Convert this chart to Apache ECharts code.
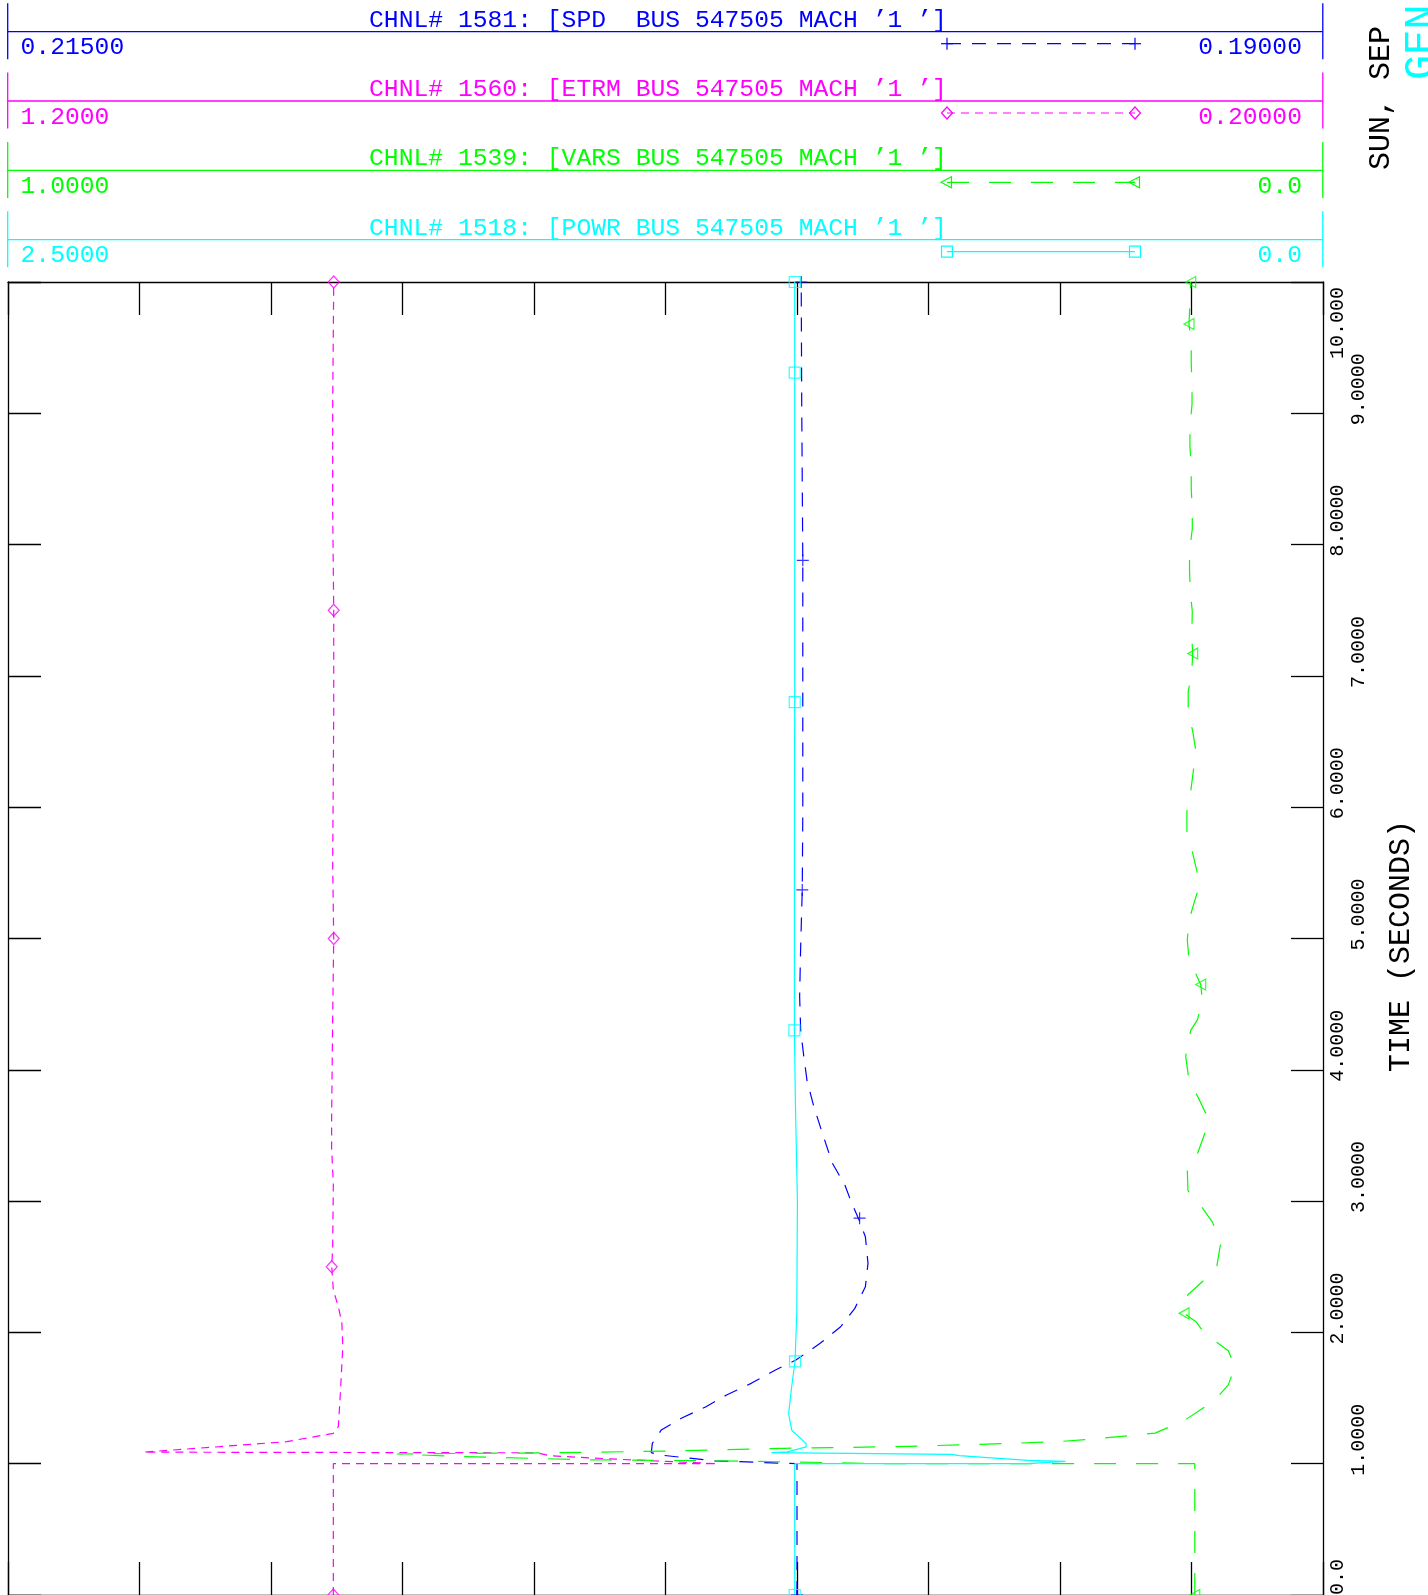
<!DOCTYPE html>
<html>
<head>
<meta charset="utf-8">
<script src="https://cdn.jsdelivr.net/npm/echarts@6/dist/echarts.min.js"></script>
<style>
html,body{margin:0;padding:0;background:#ffffff;overflow:hidden;}
#chart{width:1428px;height:1595px;}
</style>
</head>
<body>
<div id="chart"></div>
<script>
// ---------------- DATA ----------------
const channelTitles = [
  "CHNL# 1581: [SPD  BUS 547505 MACH \u20191 \u2019]",
  "CHNL# 1560: [ETRM BUS 547505 MACH \u20191 \u2019]",
  "CHNL# 1539: [VARS BUS 547505 MACH \u20191 \u2019]",
  "CHNL# 1518: [POWR BUS 547505 MACH \u20191 \u2019]"
];
const channelLeftValues  = [0.215, 1.2, 1.0, 2.5];
const channelRightValues = [0.19, 0.2, 0.0, 0.0];
const channelLeftLabels  = ["0.21500", "1.2000", "1.0000", "2.5000"];
const channelRightLabels = ["0.19000", "0.20000", "0.0", "0.0"];
const channelColors = ["#0000ff", "#ff00ff", "#00ff00", "#00ffff"];

const timeMin = 0, timeMax = 10, timeStep = 1;
const timeAxisTitle = "TIME (SECONDS)";
const dateText = "SUN, SEP";
const cornerText = "GEN";

// SPD (speed) channel
const spdTime  = [0, 1.0, 1.022, 1.066, 1.084, 1.155, 1.257, 1.346, 1.434, 1.523, 1.612, 1.714, 1.79, 1.917, 2.043, 2.183, 2.348, 2.526, 2.729, 2.856, 2.995, 3.123, 3.29, 3.52, 3.72, 3.92, 4.10, 4.30, 4.56, 4.94, 5.37, 5.95, 6.72, 7.88, 9.05, 10];
const spdValue = [0.20000, 0.20000, 0.20157, 0.20260, 0.20277, 0.20275, 0.20258, 0.20220, 0.20173, 0.20134, 0.20087, 0.20041, 0.20002, 0.19956, 0.19917, 0.19890, 0.19870, 0.19865, 0.19870, 0.19882, 0.19897, 0.19909, 0.19933, 0.19952, 0.19968, 0.19981, 0.19987, 0.19993, 0.19995, 0.19993, 0.19990, 0.19989, 0.19989, 0.19989, 0.19991, 0.19992];
const spdMarkTime  = [0, 2.87, 5.37, 7.88, 10];
const spdMarkValue = [0.20000, 0.19881, 0.19990, 0.19989, 0.19992];

// ETRM (terminal voltage) channel
const etrmTime  = [0, 1.0, 1.0, 1.033, 1.06, 1.083, 1.088, 1.13, 1.168, 1.231, 1.282, 1.51, 1.89, 2.07, 2.197, 2.32, 2.5, 2.65, 3.13, 3.4, 3.63, 4.4, 5.0, 5.56, 6.72, 7.5, 8.27, 9.05, 10];
const etrmValue = [0.9526, 0.9526, 0.6605, 0.7344, 0.7875, 0.7978, 1.0971, 1.0388, 0.9880, 0.9526, 0.9488, 0.9474, 0.9454, 0.9461, 0.9488, 0.9526, 0.9538, 0.9531, 0.9526, 0.9539, 0.9539, 0.9531, 0.9523, 0.9531, 0.9523, 0.9523, 0.9531, 0.9531, 0.9523];
const etrmMarkTime  = [0, 2.5, 5.0, 7.5, 10];
const etrmMarkValue = [0.9526, 0.9538, 0.9523, 0.9523, 0.9523];

// VARS (reactive power) channel
const varsTime  = [0, 1.0, 1.0, 1.015, 1.023, 1.03, 1.056, 1.074, 1.084, 1.097, 1.117, 1.13, 1.155, 1.168, 1.193, 1.233, 1.33, 1.483, 1.6, 1.739, 1.86, 1.993, 2.08, 2.145, 2.285, 2.4, 2.5, 2.68, 2.84, 2.97, 3.08, 3.24, 3.36, 3.57, 3.67, 3.80, 3.92, 4.10, 4.30, 4.38, 4.53, 4.65, 4.76, 4.84, 4.99, 5.14, 5.27, 5.35, 5.5, 5.65, 5.82, 5.97, 6.12, 6.30, 6.43, 6.58, 6.73, 6.88, 7.02, 7.17, 7.3, 7.49, 7.64, 7.80, 7.95, 8.12, 8.27, 8.43, 8.59, 8.75, 8.90, 9.07, 9.22, 9.38, 9.53, 9.68, 10];
const varsValue = [0.0975, 0.0975, 0.3328, 0.4133, 0.4760, 0.5596, 0.6594, 0.7043, 0.5782, 0.4930, 0.4102, 0.3235, 0.2361, 0.2012, 0.1687, 0.1277, 0.1053, 0.0824, 0.0720, 0.0670, 0.0720, 0.0902, 0.0964, 0.1057, 0.1029, 0.0902, 0.0808, 0.0778, 0.0841, 0.0933, 0.1027, 0.1032, 0.0955, 0.0879, 0.0892, 0.0955, 0.1019, 0.1044, 0.1006, 0.0955, 0.0917, 0.0930, 0.0981, 0.1019, 0.1032, 0.1019, 0.0981, 0.0956, 0.0956, 0.0991, 0.1035, 0.1035, 0.1006, 0.0983, 0.0967, 0.0991, 0.1025, 0.1025, 0.0998, 0.0991, 0.0998, 0.0994, 0.1009, 0.1015, 0.1015, 0.0994, 0.0994, 0.1002, 0.1002, 0.1012, 0.1012, 0.0996, 0.0996, 0.1002, 0.1002, 0.1019, 0.1006];
const varsMarkTime  = [0, 2.145, 4.65, 7.17, 9.68, 10];
const varsMarkValue = [0.0975, 0.1057, 0.0930, 0.0991, 0.1019, 0.1006];

// POWR (active power) channel
const powrTime  = [0, 1.0, 1.0, 1.017, 1.025, 1.046, 1.061, 1.071, 1.083, 1.084, 1.09, 1.128, 1.153, 1.255, 1.38, 1.59, 1.78, 2.15, 3.0, 3.72, 4.30, 5.44, 7.0, 10];
const powrValue = [1.0043, 1.0043, 0.5610, 0.4896, 0.5600, 0.6372, 0.6914, 0.7071, 0.7071, 1.0488, 1.0178, 0.9826, 0.9826, 1.0100, 1.0159, 1.0100, 1.0037, 1.0004, 0.9992, 1.0029, 1.0050, 1.0050, 1.0043, 1.0043];
const powrMarkTime  = [0, 1.78, 4.30, 6.8, 9.31, 10];
const powrMarkValue = [1.0043, 1.0037, 1.0050, 1.0043, 1.0043, 1.0043];

// ---------------- STYLE ----------------
const MONO = "'Liberation Mono', 'Courier New', monospace";
const PLUS = 'path://M0,5L10,5M5,0L5,10';
const dashes = [[14, 11], [8, 6], [22, 20], 'solid'];
const markerSymbols = [PLUS, 'diamond', 'triangle', 'rect'];
const markerSizes = [[12, 12], [11, 12], [11, 10], [11, 11]];
const markerRotate = [0, 0, 90, 0];

function pairs(ts, vs) { return ts.map(function (t, i) { return [vs[i], t]; }); }

const lineData = [
  pairs(spdTime, spdValue), pairs(etrmTime, etrmValue),
  pairs(varsTime, varsValue), pairs(powrTime, powrValue)
];
const markData = [
  pairs(spdMarkTime, spdMarkValue), pairs(etrmMarkTime, etrmMarkValue),
  pairs(varsMarkTime, varsMarkValue), pairs(powrMarkTime, powrMarkValue)
];

// ---------------- HEADER GRAPHICS ----------------
const GL = 7.7, GR = 1322.8;
const graphics = [];
function legendMarker(kind, cx, cy, c) {
  const st = { fill: 'none', stroke: c, lineWidth: 1.2 };
  if (kind === 0) {
    graphics.push({ type: 'line', shape: { x1: cx - 6, y1: cy, x2: cx + 6, y2: cy }, style: st });
    graphics.push({ type: 'line', shape: { x1: cx, y1: cy - 6, x2: cx, y2: cy + 6 }, style: st });
  } else if (kind === 1) {
    graphics.push({ type: 'polygon', shape: { points: [[cx, cy - 6], [cx + 5.5, cy], [cx, cy + 6], [cx - 5.5, cy]] }, style: st });
  } else if (kind === 2) {
    graphics.push({ type: 'polygon', shape: { points: [[cx - 6, cy], [cx + 4.5, cy - 5.5], [cx + 4.5, cy + 5.5]] }, style: st });
  } else {
    graphics.push({ type: 'rect', shape: { x: cx - 5.5, y: cy - 5.5, width: 11, height: 11 }, style: st });
  }
}
for (let i = 0; i < 4; i++) {
  const base = 31.7 + 69.3 * i;
  const c = channelColors[i];
  const ls = { stroke: c, lineWidth: 1.3 };
  graphics.push({ type: 'line', shape: { x1: GL, y1: base - 28.4, x2: GL, y2: base + 27.6 }, style: ls });
  graphics.push({ type: 'line', shape: { x1: GR, y1: base - 28.4, x2: GR, y2: base + 27.6 }, style: ls });
  graphics.push({ type: 'line', shape: { x1: GL, y1: base, x2: GR, y2: base }, style: ls });
  graphics.push({ type: 'text', x: 369, y: base - 11.5, style: { text: channelTitles[i], fill: c, font: '24.7px ' + MONO, align: 'left', verticalAlign: 'middle' } });
  graphics.push({ type: 'text', x: 20.5, y: base + 16.2, style: { text: channelLeftLabels[i], fill: c, font: '24.7px ' + MONO, align: 'left', verticalAlign: 'middle' } });
  graphics.push({ type: 'text', x: 1302, y: base + 16.2, style: { text: channelRightLabels[i], fill: c, font: '24.7px ' + MONO, align: 'right', verticalAlign: 'middle' } });
  const ly = base + 12;
  const d = dashes[i];
  graphics.push({ type: 'line', shape: { x1: 947, y1: ly, x2: 1135, y2: ly }, style: { stroke: c, lineWidth: 1.2, lineDash: (d === 'solid' ? null : d) } });
  legendMarker(i, 947, ly, c);
  legendMarker(i, 1135, ly, c);
}
graphics.push({ type: 'text', x: 1366, y: 170, rotation: Math.PI / 2, style: { text: dateText, fill: '#000000', font: '30px ' + MONO, align: 'left', verticalAlign: 'top' } });
graphics.push({ type: 'text', x: 1401, y: 80, rotation: Math.PI / 2, style: { text: cornerText, fill: '#00ffff', font: '42px ' + MONO, align: 'left', verticalAlign: 'top' } });

// ---------------- AXES ----------------
const axisLineStyle = { color: '#000000', width: 1.3 };
function fmtTime(v) {
  if (v === 0) return '0.0';
  if (v === 10) return '10.000';
  return v.toFixed(4);
}
const richStyle = { fontSize: 20, fontFamily: MONO, color: '#000000' };
const timeRich = {
  e: Object.assign({ padding: [0, 0, 0, 48] }, richStyle),
  o: Object.assign({ padding: [21, 0, 0, 48] }, richStyle),
  t: Object.assign({ padding: [0, 82, 0, 0] }, richStyle),
  z: Object.assign({ padding: [0, 0, 0, 36] }, richStyle)
};

const xAxes = [
  { type: 'value', position: 'top', min: 0, max: 10, interval: 1,
    axisLine: { show: true, onZero: false, lineStyle: axisLineStyle },
    axisTick: { show: true, inside: true, length: 33, lineStyle: axisLineStyle },
    axisLabel: { show: false }, splitLine: { show: false } },
  { type: 'value', position: 'bottom', min: 0, max: 10, interval: 1,
    axisLine: { show: true, onZero: false, lineStyle: axisLineStyle },
    axisTick: { show: true, inside: true, length: 33, lineStyle: axisLineStyle },
    axisLabel: { show: false }, splitLine: { show: false } }
];
for (let i = 0; i < 4; i++) {
  xAxes.push({ type: 'value', show: false, inverse: true, position: 'bottom',
    min: Math.min(channelLeftValues[i], channelRightValues[i]),
    max: Math.max(channelLeftValues[i], channelRightValues[i]),
    axisLine: { onZero: false }, splitLine: { show: false } });
}

const yAxes = [
  { type: 'value', position: 'left', min: timeMin, max: timeMax, interval: timeStep,
    axisLine: { show: true, onZero: false, lineStyle: axisLineStyle },
    axisTick: { show: true, inside: true, length: 33, lineStyle: axisLineStyle },
    axisLabel: { show: false }, splitLine: { show: false } },
  { type: 'value', position: 'right', min: timeMin, max: timeMax, interval: timeStep,
    axisLine: { show: true, onZero: false, lineStyle: axisLineStyle },
    axisTick: { show: true, inside: true, length: 32, lineStyle: axisLineStyle },
    splitLine: { show: false },
    axisLabel: {
      show: true, rotate: 90, margin: 5, align: 'center', verticalAlign: 'top',
      fontSize: 20, fontFamily: MONO, color: '#000000', hideOverlap: false,
      formatter: function (v) {
        const s = fmtTime(v);
        if (v === 10) return '{t|' + s + '}';
        if (v === 0) return '{z|' + s + '}';
        return (Math.round(v) % 2 === 0 ? '{e|' : '{o|') + s + '}';
      },
      rich: timeRich
    },
    name: timeAxisTitle, nameLocation: 'middle', nameRotate: 90, nameGap: 63,
    nameTextStyle: { fontSize: 30, fontFamily: MONO, color: '#000000', align: 'center', verticalAlign: 'top', padding: [0, 15, 0, 0] }
  }
];

// ---------------- SERIES ----------------
const series = [];
for (let i = 0; i < 4; i++) {
  series.push({
    type: 'line', xAxisIndex: 2 + i, yAxisIndex: 0, data: lineData[i],
    showSymbol: false, symbol: 'none', smooth: false, sampling: null,
    lineStyle: { color: channelColors[i], width: 1.2, type: dashes[i] },
    itemStyle: { color: channelColors[i] },
    silent: true, animation: false, z: 3
  });
  series.push({
    type: 'scatter', xAxisIndex: 2 + i, yAxisIndex: 0, data: markData[i],
    symbol: markerSymbols[i], symbolSize: markerSizes[i], symbolRotate: markerRotate[i],
    itemStyle: { color: 'rgba(0,0,0,0)', borderColor: channelColors[i], borderWidth: 1.2 },
    clip: false, silent: true, animation: false, z: 4
  });
}

const chart = echarts.init(document.getElementById('chart'), null, { renderer: 'canvas' });
chart.setOption({
  backgroundColor: '#ffffff',
  animation: false,
  grid: { left: 8, right: 105, top: 282, bottom: 0, containLabel: false, outerBoundsMode: 'none' },
  xAxis: xAxes,
  yAxis: yAxes,
  series: series,
  graphic: graphics
});
</script>
</body>
</html>
